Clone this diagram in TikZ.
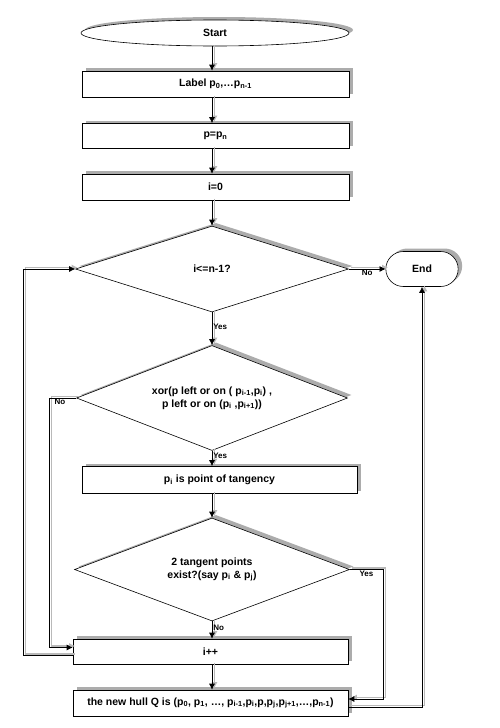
\documentclass[tikz,border=0pt]{standalone}
\usepackage{fontspec}
\setmainfont{Liberation Sans}
\usetikzlibrary{shapes.geometric,shapes.misc,shadows,arrows.meta,calc}
\newcommand{\ssub}[1]{\textsubscript{#1}}
\begin{document}
\begin{tikzpicture}[x=1pt,y=-1pt,
  font=\fontsize{10.5}{13}\selectfont\bfseries,
  shad/.style={general shadow={shadow xshift=4pt,shadow yshift=3pt,fill=gray!65}},
  box/.style={draw=black,fill=white,line width=0.6pt,minimum width=267pt,minimum height=26pt,inner sep=1pt,shad},
  dia/.style={diamond,aspect=2.7,draw=black,fill=white,line width=0.6pt,inner sep=0pt,align=center,shad},
  conn/.style={line width=0.7pt,-{Latex[length=6pt,width=6pt]},
    preaction={draw=gray!55,line width=1.2pt,-{Latex[length=6pt,width=6pt]},transform canvas={shift={(2.5pt,1.5pt)}}}},
  lab/.style={font=\fontsize{8}{9}\selectfont\bfseries,inner sep=1pt}]
\useasboundingbox (0,0) rectangle (500,728);
\fill[white] (0,0) rectangle (500,728);

\node[ellipse,draw=black,fill=white,line width=0.6pt,minimum width=268pt,minimum height=26pt,shad] (start) at (215,33) {Start};
\node[box] (label) at (215.5,84) {Label p\ssub{0},\dots p\ssub{n-1}};
\node[box,minimum height=25pt] (pp) at (215.5,136) {p=p\ssub{n}};
\node[box] (i0) at (215.5,187) {i=0};
\node[dia,minimum width=273pt,minimum height=86pt] (d1) at (212,269) {i<=n-1?};
\node[rounded rectangle,draw=black,fill=white,line width=0.6pt,minimum width=79pt,minimum height=35pt,shad] (end) at (422,269) {End};
\node[dia,minimum width=271pt,minimum height=105pt] (d2) at (212,398) {xor(p left or on ( p\ssub{i-1},p\ssub{i}) ,\\ p left or on (p\ssub{i} ,p\ssub{i+1}))};
\node[box,minimum width=275pt,minimum height=27pt] (tang) at (219.5,480) {p\ssub{i} is point of tangency};
\node[dia,minimum width=275pt,minimum height=103pt] (d3) at (212,569.5) {2 tangent points\\ exist?(say p\ssub{i} \& p\ssub{j})};
\node[box,minimum width=275pt,minimum height=25pt] (inc) at (210.5,651.5) {i++};
\node[box,minimum width=275pt,minimum height=26pt] (hull) at (210.5,703) {the new hull Q is (p\ssub{0}, p\ssub{1}, \dots, p\ssub{i-1},p\ssub{i},p,p\ssub{j},p\ssub{j+1},\dots,p\ssub{n-1})};

\draw[conn] (start.south -| d1.north) -- (label.north -| d1.north);
\draw[conn] (label.south -| d1.north) -- (pp.north -| d1.north);
\draw[conn] (pp.south -| d1.north) -- (i0.north -| d1.north);
\draw[conn] (i0.south -| d1.north) -- (d1.north);
\draw[conn] (d1.south) -- node[lab,right,pos=0.45]{Yes} (d2.north);
\draw[conn] (d1.east) -- node[lab,below,pos=0.5]{No} (end.west);
\draw[conn] (d2.south) -- node[lab,right,pos=0.35]{Yes} (tang.north -| d2.south);
\draw[conn] (d2.west) -- node[lab,below,pos=0.6]{No} ++(-27,0) |- ($(inc.west)+(0,-4)$);
\draw[conn] (tang.south -| d3.north) -- (d3.north);
\draw[conn] (d3.south) -- node[lab,right,pos=0.35]{No} (inc.north -| d3.south);
\draw[conn] (d3.east) -- node[lab,below,pos=0.5]{Yes} (383,569.5) |- ($(hull.east)+(0,-4)$);
\draw[conn] (inc.south -| d3.south) -- (hull.north -| d3.south);
\draw[conn] ($(inc.west)+(0,4)$) -- (23,655.5) |- (d1.west);
\draw[conn] ($(hull.east)+(0,4)$) -| (end.south);
\end{tikzpicture}
\end{document}
